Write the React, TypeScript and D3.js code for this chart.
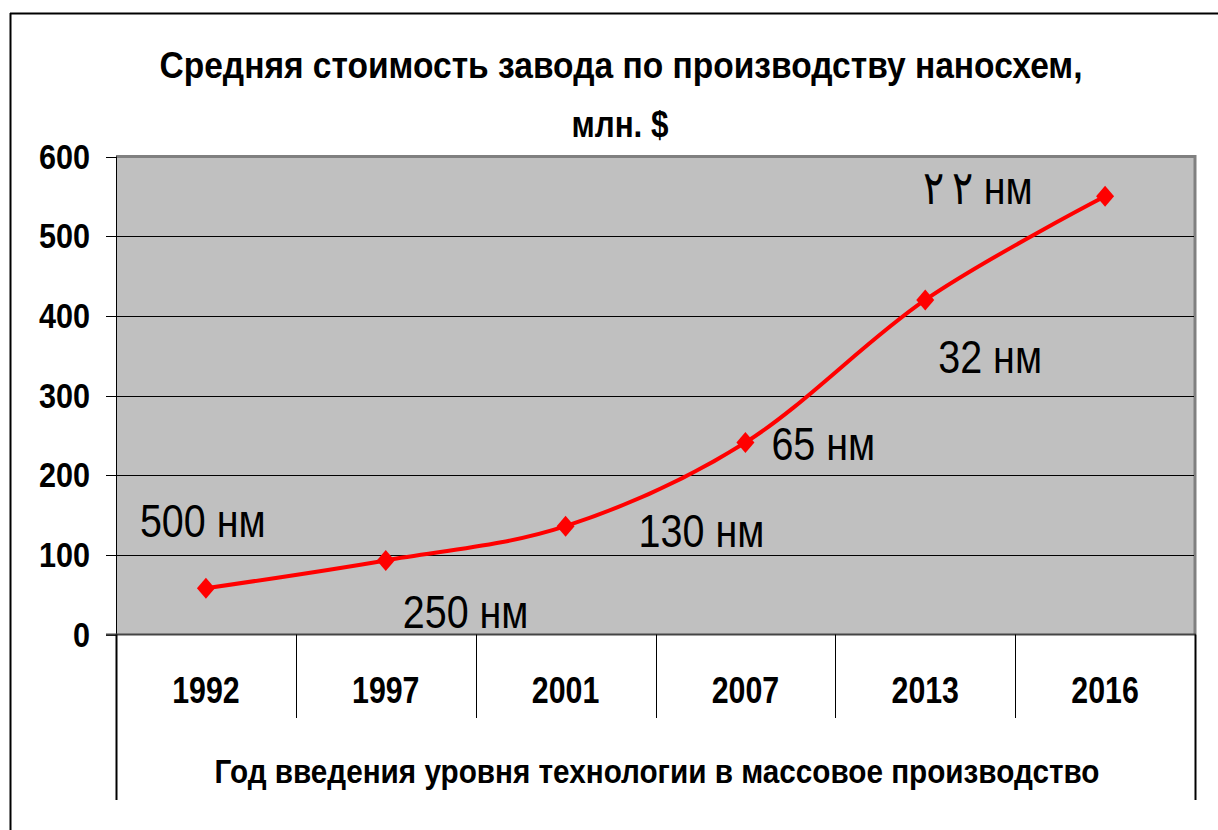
import React from 'react';
import * as d3 from 'd3';

const years = ['1992', '1997', '2001', '2007', '2013', '2016'];
const costs = [58, 93, 136, 241, 420, 550];
const yTicks = [0, 100, 200, 300, 400, 500, 600];

// node labels, anchored at (year, value) with a horizontal nudge
const nodeLabels = ['500 нм', '250 нм', '130 нм', '65 нм', '32 нм', '٢\u2009٢ нм'];
const nodeLabelValues = [122, 8, 110, 219, 328, 540];
const nodeLabelDx = [-66, 17, 73, 26, 13, -182];

const titleLines = ['Средняя стоимость завода по производству наносхем,', 'млн. $'];
const xTitle = 'Год введения уровня технологии в массовое производство';

const W = 1218;
const H = 830;
const plot = { left: 116, right: 1195, top: 156.5, bottom: 634.5 };
const FONT = '"Liberation Sans", Arial, sans-serif';
const NARROW = 0.84;

export default function App() {
  const x = d3.scaleBand<string>().domain(years).range([plot.left, plot.right]).padding(0);
  const y = d3.scaleLinear().domain([0, 600]).range([plot.bottom, plot.top]);
  const cx = (yr: string) => (x(yr) ?? 0) + x.bandwidth() / 2;

  const line = d3
    .line<number>()
    .x((_, i) => cx(years[i]))
    .y((d) => y(d))
    .curve(d3.curveCardinal.tension(0));

  const diamond = 'M0,-10.5L9,0L0,10.5L-9,0Z';

  const narrowText = (
    key: string,
    tx: number,
    ty: number,
    txt: string,
    size: number,
    weight: string,
    anchor: string,
    k = NARROW
  ) => (
    <g key={key} transform={`translate(${tx},${ty}) scale(${k},1)`}>
      <text fontFamily={FONT} fontSize={size} fontWeight={weight} textAnchor={anchor} fill="#000">
        {txt}
      </text>
    </g>
  );

  const bounds = [...years.map((yr) => x(yr) ?? 0), plot.right];

  return (
    <svg width={W} height={H} style={{ position: 'absolute', left: 0, top: 0, background: '#fff' }}>
      {/* outer frame */}
      <line x1={10} y1={13.5} x2={W} y2={13.5} stroke="#000" strokeWidth={2} />
      <line x1={10.5} y1={13} x2={10.5} y2={H} stroke="#000" strokeWidth={2} />

      {/* title */}
      <text x={621} y={78} fontFamily={FONT} fontSize={36} fontWeight="bold" textAnchor="middle"
        textLength={923} lengthAdjust="spacingAndGlyphs">{titleLines[0]}</text>
      <text x={620} y={137} fontFamily={FONT} fontSize={36} fontWeight="bold" textAnchor="middle"
        textLength={97} lengthAdjust="spacingAndGlyphs">{titleLines[1]}</text>

      {/* plot area */}
      <rect x={plot.left} y={plot.top} width={plot.right - plot.left} height={plot.bottom - plot.top} fill="#c0c0c0" />
      <polyline
        points={`${plot.left},${plot.top} ${plot.right},${plot.top} ${plot.right},${plot.bottom}`}
        fill="none" stroke="#808080" strokeWidth={3} />

      {/* gridlines + ticks */}
      {yTicks.map((t) => (
        <g key={t}>
          {t > 0 && t < 600 && (
            <line x1={plot.left} x2={plot.right - 1} y1={Math.round(y(t)) + 0.5} y2={Math.round(y(t)) + 0.5} stroke="#000" strokeWidth={1} />
          )}
          <line x1={106} x2={plot.left} y1={Math.round(y(t)) + 0.5} y2={Math.round(y(t)) + 0.5} stroke="#000" strokeWidth={1} />
          {narrowText(`yl${t}`, 90, y(t) + 12, String(t), 36, 'bold', 'end', 0.85)}
        </g>
      ))}

      {/* y axis */}
      <line x1={plot.left + 0.5} x2={plot.left + 0.5} y1={plot.top} y2={plot.bottom} stroke="#000" strokeWidth={1} />
      {/* category axis line */}
      <line x1={106} x2={plot.right + 1} y1={plot.bottom} y2={plot.bottom} stroke="#444" strokeWidth={2} />

      {/* category table lines */}
      {bounds.map((bx, i) => (
        <line key={`b${i}`} x1={Math.round(bx) + 0.5} x2={Math.round(bx) + 0.5} y1={plot.bottom}
          y2={i === 0 || i === bounds.length - 1 ? 800 : 718} stroke="#000" strokeWidth={i === 0 || i === bounds.length - 1 ? 2 : 1} />
      ))}

      {/* year labels */}
      {years.map((yr) => narrowText(`x${yr}`, cx(yr), 703, yr, 37, 'bold', 'middle', 0.82))}

      {/* x title */}
      {narrowText('xt', 657, 783, xTitle, 33, 'bold', 'middle', 0.9)}

      {/* series */}
      <path d={line(costs) ?? ''} fill="none" stroke="#ff0000" strokeWidth={4} strokeLinejoin="round" />
      {costs.map((v, i) => (
        <path key={`m${i}`} d={diamond} transform={`translate(${cx(years[i])},${y(v)})`} fill="#ff0000" />
      ))}

      {/* node labels */}
      {nodeLabels.map((lbl, i) =>
        narrowText(`n${i}`, cx(years[i]) + nodeLabelDx[i], y(nodeLabelValues[i]), lbl, 47, 'normal', 'start', 0.84)
      )}
    </svg>
  );
}
